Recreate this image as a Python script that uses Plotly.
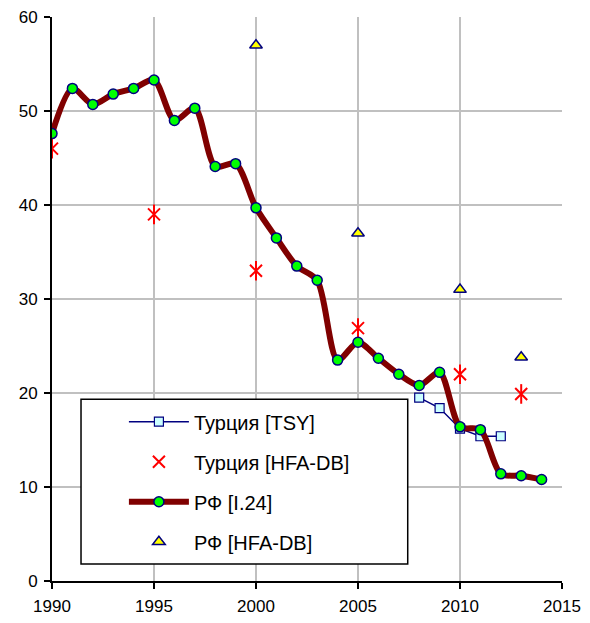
import plotly.graph_objects as go

rf_years = list(range(1990, 2015))
rf_vals = [47.6, 52.4, 50.7, 51.8, 52.4, 53.3, 49.0, 50.3, 44.1, 44.4, 39.7, 36.5,
           33.5, 32.0, 23.5, 25.4, 23.7, 22.0, 20.8, 22.2, 16.4, 16.1, 11.4, 11.2, 10.8]

tsy_years = [2008, 2009, 2010, 2011, 2012]
tsy_vals = [19.5, 18.4, 16.2, 15.4, 15.4]

tr_hfa_years = [1990, 1995, 2000, 2005, 2010, 2013]
tr_hfa_vals = [46.0, 39.0, 33.0, 26.9, 22.0, 19.9]

rf_hfa_years = [2000, 2005, 2010, 2013]
rf_hfa_vals = [57.0, 37.0, 31.0, 23.8]

x_ticks = [1990, 1995, 2000, 2005, 2010, 2015]
y_ticks = [0, 10, 20, 30, 40, 50, 60]

NAVY = "#000080"
fig = go.Figure()

fig.add_trace(go.Scatter(
    x=tsy_years, y=tsy_vals, name="Турция [TSY]", mode="lines+markers",
    line=dict(color=NAVY, width=1.5),
    marker=dict(symbol="square", size=9, color="#CCFFFF", line=dict(color=NAVY, width=1.2)),
    legendgroup="a"))

fig.add_trace(go.Scatter(
    x=tr_hfa_years, y=tr_hfa_vals, name="Турция [HFA-DB]", mode="markers",
    marker=dict(symbol="x-thin-open", size=12, color="red", line=dict(color="red", width=2)),
    legendgroup="b"))
fig.add_trace(go.Scatter(
    x=tr_hfa_years, y=tr_hfa_vals, name="Турция [HFA-DB]", mode="markers",
    marker=dict(symbol="line-ns-open", size=14, color="red", line=dict(color="red", width=2)),
    legendgroup="b", showlegend=False, hoverinfo="skip"))

fig.add_trace(go.Scatter(
    x=rf_years, y=rf_vals, name="РФ [I.24]", mode="lines+markers",
    line=dict(color="#800000", width=6, shape="spline", smoothing=0.8),
    marker=dict(symbol="circle", size=10, color="#00FF00", line=dict(color=NAVY, width=1.5)),
    legendgroup="c"))

fig.add_trace(go.Scatter(
    x=rf_hfa_years, y=rf_hfa_vals, name="РФ [HFA-DB]", mode="markers",
    marker=dict(symbol="triangle-up", size=11, color="#FFFF00", line=dict(color=NAVY, width=1.5)),
    legendgroup="d"))

fig.update_layout(
    width=582, height=615,
    margin=dict(l=44, r=28, t=9, b=42),
    paper_bgcolor="white", plot_bgcolor="white",
    font=dict(family="Liberation Sans, Arial, sans-serif", size=17, color="black"),
    showlegend=True,
    legend=dict(
        x=0.141, y=0.317, xanchor="left", yanchor="top",
        bgcolor="rgba(0,0,0,0)", borderwidth=0,
        font=dict(size=20), tracegroupgap=11, itemwidth=60,
        traceorder="grouped",
    ),
    shapes=[dict(
        type="rect", xref="paper", yref="paper", layer="above",
        x0=0.0569, x1=0.6975, y0=0.0301, y1=0.3222,
        fillcolor="white", line=dict(color="black", width=1.5),
    )],
    xaxis=dict(
        range=[1990, 2015], tickvals=x_ticks, ticks="outside", ticklen=6,
        tickcolor="black", tickwidth=1.5, showline=True, linecolor="black", linewidth=2,
        showgrid=True, gridcolor="#C0C0C0", gridwidth=2, zeroline=False, automargin=False,
        ticklabeloverflow="allow", ticklabelstandoff=3,
    ),
    yaxis=dict(
        range=[0, 60], tickvals=y_ticks, ticks="outside", ticklen=6,
        tickcolor="black", tickwidth=1.5, showline=True, linecolor="black", linewidth=2,
        showgrid=True, gridcolor="#C0C0C0", gridwidth=2, zeroline=False, automargin=False,
        ticklabeloverflow="allow", ticklabelstandoff=3,
    ),
)

fig.write_html("out.html")
